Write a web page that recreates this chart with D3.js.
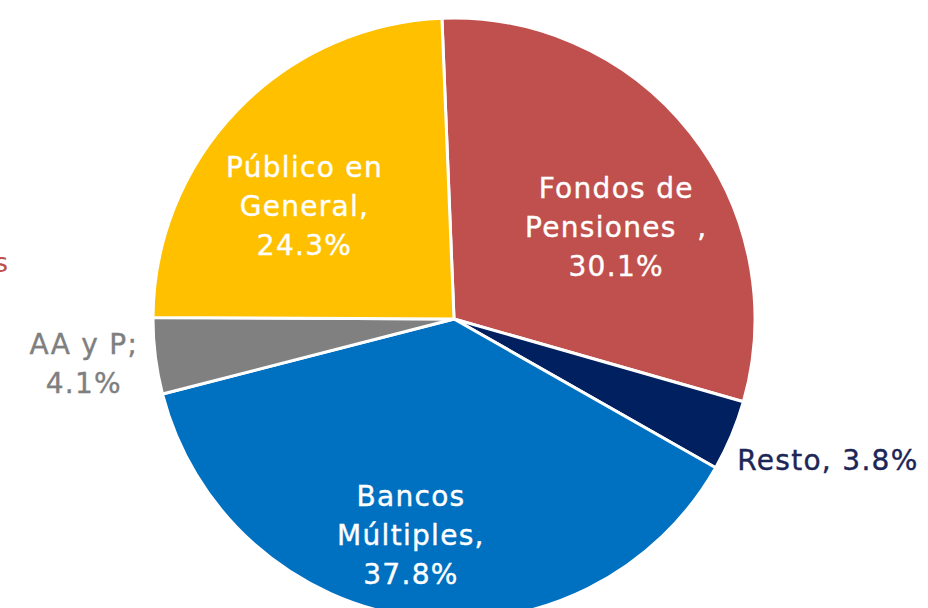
<!DOCTYPE html>
<html>
<head>
<meta charset="utf-8">
<script src="https://cdn.jsdelivr.net/npm/d3@7"></script>
<style>
  body { margin: 0; background: #fff; }
  svg { display: block; }
  text { font-family: "DejaVu Sans", sans-serif; white-space: pre; }
</style>
</head>
<body>
<div id="wrapper"></div>
<script>
// slices clockwise from the top
let categories = ["Fondos de Pensiones", "Resto", "Bancos Múltiples", "AA y P", "Público en General"];
let shares = [30.1, 3.8, 37.8, 4.1, 24.3];
let labelLines = [
  ["Fondos de", "Pensiones  ,", "30.1%"],
  ["Resto, 3.8%"],
  ["Bancos", "Múltiples,", "37.8%"],
  ["AA y P;", "4.1%"],
  ["Público en", "General,", "24.3%"]
];
let colors = ["#C0504D", "#002060", "#0070C0", "#808080", "#FFC000"];
let labelColors = ["#ffffff", "#1c2657", "#ffffff", "#7f7f7f", "#ffffff"];

let dimensions = {
  width: 928,
  height: 608,
  cx: 454,
  cy: 319,
  radius: 301
};

// label placement: radius from centre + nudge
let labelRadius = [186, 330, 220, 373, 187];
let labelNudge = [[16, 23], [-21, 13], [-14, -2], [0, -1], [-15, 17]];
let labelAnchor = ["middle", "start", "middle", "middle", "middle"];

function drawFunction() {
  let wrapper = d3
    .select("#wrapper")
    .append("svg")
    .attr("width", dimensions.width)
    .attr("height", dimensions.height);

  // stray cut-off text at the left edge (cropped in the original too)
  wrapper
    .append("text")
    .attr("x", -6)
    .attr("y", 272)
    .attr("fill", "#c0504d")
    .attr("font-size", 27)
    .text("s");

  let bounds = wrapper
    .append("g")
    .attr("transform", `translate(${dimensions.cx}, ${dimensions.cy})`);

  let data = categories.map((c, i) => ({ name: c, value: shares[i], i: i }));

  let startAngle = (-2.3 * Math.PI) / 180;
  let pieGenerator = d3
    .pie()
    .sort(null)
    .value(d => d.value)
    .startAngle(startAngle)
    .endAngle(startAngle + 2 * Math.PI);

  let arcs = pieGenerator(data);

  let arcGenerator = d3.arc().innerRadius(0).outerRadius(dimensions.radius);

  bounds
    .selectAll("path")
    .data(arcs)
    .join("path")
    .attr("d", arcGenerator)
    .attr("fill", d => colors[d.data.i])
    .attr("stroke", "#fff")
    .attr("stroke-width", 3)
    .attr("stroke-linejoin", "round");

  let lineHeight = 39;

  let labels = bounds
    .selectAll("g.label")
    .data(arcs)
    .join("g")
    .attr("class", "label")
    .attr("transform", d => {
      let i = d.data.i;
      let r = labelRadius[i];
      let p = d3.arc().innerRadius(r).outerRadius(r).centroid(d);
      return `translate(${p[0] + labelNudge[i][0]}, ${p[1] + labelNudge[i][1]})`;
    });

  labels.each(function(d) {
    let i = d.data.i;
    let lines = labelLines[i];
    let offset = ((lines.length - 1) * lineHeight) / 2;
    d3.select(this)
      .selectAll("text")
      .data(lines)
      .join("text")
      .attr("x", 0)
      .attr("y", (l, k) => k * lineHeight - offset)
      .attr("dy", "0.35em")
      .attr("text-anchor", labelAnchor[i])
      .attr("fill", labelColors[i])
      .attr("stroke", labelColors[i])
      .attr("stroke-width", 0.4)
      .attr("font-size", 28)
      .attr("letter-spacing", 1.3)
      .text(l => l);
  });
}

drawFunction();
</script>
</body>
</html>
